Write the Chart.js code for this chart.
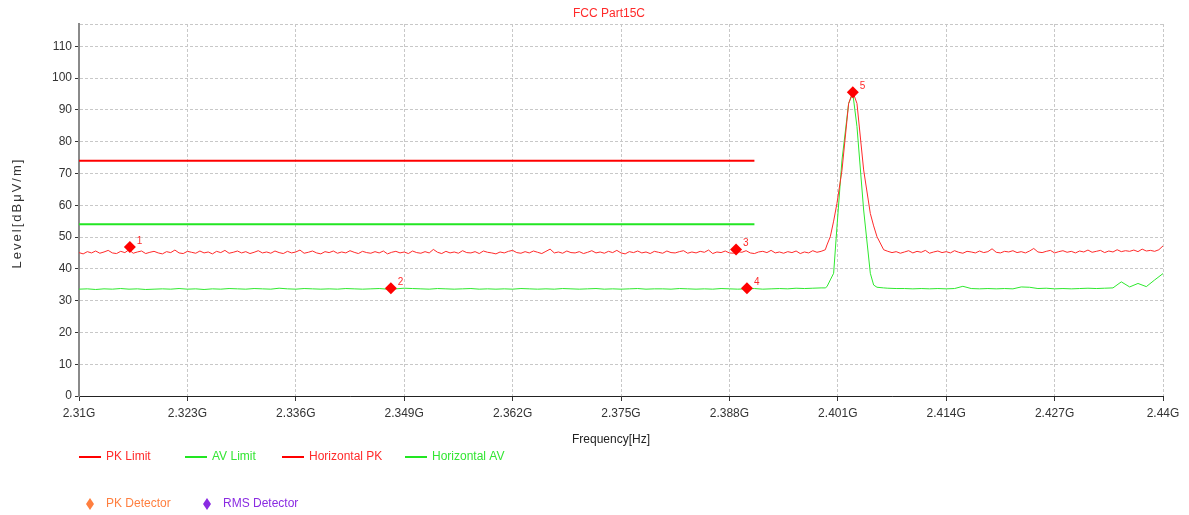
<!DOCTYPE html>
<html lang="en">
<head>
<meta charset="UTF-8">
<title>FCC Part15C</title>
<script src="https://cdn.jsdelivr.net/npm/chart.js"></script>
<style>
  body { margin: 0; background: #fff; }
</style>
</head>
<body>
<canvas id="fccChart" width="1189" height="515"></canvas>
<script>
// Horizontal PK sweep points (MHz)
const pkFreqMHz = [
  2310, 2310.5, 2311, 2311.5, 2312, 2312.5, 2313, 2313.5, 2314, 2314.5,
  2315, 2315.5, 2316, 2316.5, 2317, 2317.5, 2318, 2318.5, 2319, 2319.5,
  2320, 2320.5, 2321, 2321.5, 2322, 2322.5, 2323, 2323.5, 2324, 2324.5,
  2325, 2325.5, 2326, 2326.5, 2327, 2327.5, 2328, 2328.5, 2329, 2329.5,
  2330, 2330.5, 2331, 2331.5, 2332, 2332.5, 2333, 2333.5, 2334, 2334.5,
  2335, 2335.5, 2336, 2336.5, 2337, 2337.5, 2338, 2338.5, 2339, 2339.5,
  2340, 2340.5, 2341, 2341.5, 2342, 2342.5, 2343, 2343.5, 2344, 2344.5,
  2345, 2345.5, 2346, 2346.5, 2347, 2347.5, 2348, 2348.5, 2349, 2349.5,
  2350, 2350.5, 2351, 2351.5, 2352, 2352.5, 2353, 2353.5, 2354, 2354.5,
  2355, 2355.5, 2356, 2356.5, 2357, 2357.5, 2358, 2358.5, 2359, 2359.5,
  2360, 2360.5, 2361, 2361.5, 2362, 2362.5, 2363, 2363.5, 2364, 2364.5,
  2365, 2365.5, 2366, 2366.5, 2367, 2367.5, 2368, 2368.5, 2369, 2369.5,
  2370, 2370.5, 2371, 2371.5, 2372, 2372.5, 2373, 2373.5, 2374, 2374.5,
  2375, 2375.5, 2376, 2376.5, 2377, 2377.5, 2378, 2378.5, 2379, 2379.5,
  2380, 2380.5, 2381, 2381.5, 2382, 2382.5, 2383, 2383.5, 2384, 2384.5,
  2385, 2385.5, 2386, 2386.5, 2387, 2387.5, 2388, 2388.5, 2389, 2389.5,
  2390, 2390.5, 2391, 2391.5, 2392, 2392.5, 2393, 2393.5, 2394, 2394.5,
  2395, 2395.5, 2396, 2396.5, 2397, 2397.5, 2398, 2398.5, 2399,
  2399.5, 2399.7, 2400.1, 2400.5, 2400.9, 2401.5, 2402.3,
  2402.8, 2403.3, 2404.1, 2404.9, 2405.3, 2405.7, 2406.5,
  2407, 2407.5, 2408, 2408.5, 2409, 2409.5, 2410, 2410.5, 2411, 2411.5,
  2412, 2412.5, 2413, 2413.5, 2414, 2414.5, 2415, 2415.5, 2416, 2416.5,
  2417, 2417.5, 2418, 2418.5, 2419, 2419.5, 2420, 2420.5, 2421, 2421.5,
  2422, 2422.5, 2423, 2423.5, 2424, 2424.5, 2425, 2425.5, 2426, 2426.5,
  2427, 2427.5, 2428, 2428.5, 2429, 2429.5, 2430, 2430.5, 2431, 2431.5,
  2432, 2432.5, 2433, 2433.5, 2434, 2434.5, 2435, 2435.5, 2436, 2436.5,
  2437, 2437.5, 2438, 2438.5, 2439, 2439.5, 2440
];

// Horizontal PK level, dBuV/m
const horizPK = [
  45.1, 44.7, 45.4, 45.0, 45.6, 44.9, 45.3, 45.8, 45.0, 44.8,
  45.5, 45.1, 46.0, 44.9, 45.3, 45.6, 44.8, 45.2, 45.5, 45.0,
  44.7, 45.4, 45.1, 45.9, 45.0, 44.8, 45.5, 45.2, 44.9, 45.6,
  45.0, 45.3, 44.7, 45.5, 45.1, 45.8, 44.9, 45.2, 45.6, 45.0,
  45.4, 44.8, 45.2, 45.7, 45.0, 45.3, 44.9, 45.6, 45.1, 44.8,
  45.5, 45.0, 45.3, 45.9, 44.9, 45.2, 45.6, 45.0, 44.7, 45.4,
  45.1, 45.6, 44.9, 45.3, 45.0, 45.7, 45.2, 44.8, 45.5, 45.1,
  44.9, 45.4, 45.0, 45.6, 44.7, 45.2, 45.5, 45.0, 45.3, 44.8,
  45.6, 45.1, 44.9, 45.4, 45.0, 46.1, 45.2, 44.8, 45.5, 45.0,
  45.3, 44.9, 45.7, 45.1, 45.0, 45.4, 44.8, 45.6, 45.2, 45.0,
  44.7, 45.3, 45.0, 45.5, 45.8, 45.1, 44.9, 45.4, 45.0, 45.6,
  45.2, 44.8, 45.5, 46.2, 45.0, 45.3, 44.9, 45.6, 45.1, 45.0,
  45.4, 44.8, 45.2, 45.7, 45.0, 45.3, 44.9, 45.5, 45.1, 45.8,
  45.0, 44.7, 45.4, 45.1, 45.6, 45.0, 45.3, 44.8, 45.5, 45.2,
  44.9, 45.6, 45.1, 45.0, 45.4, 45.7, 44.9, 45.3, 45.0, 45.5,
  45.2, 45.9, 44.8, 45.3, 45.1, 45.6, 45.0, 44.9, 45.4, 45.2,
  45.7, 45.0, 44.8, 45.3, 45.5, 45.1, 45.8, 45.0, 45.3, 44.9,
  45.4, 45.1, 45.6, 44.8, 45.3, 45.0, 45.7, 45.2, 45.5,
  46.0, 47.5, 50.1, 55.0, 60.6, 71.0, 92.0,
  95.7, 92.0, 71.1, 57.4, 53.5, 50.1, 46.0,
  45.5, 45.1, 45.4, 44.9, 45.3, 45.7, 45.0, 45.5, 45.2, 45.8,
  44.9, 45.3, 45.6, 45.1, 45.4, 45.0, 45.7, 45.2, 44.9, 45.5,
  45.3, 45.0, 45.6, 45.1, 45.4, 46.3, 45.2, 45.0, 45.5, 45.3,
  45.7, 45.1, 45.4, 45.0, 45.6, 46.4, 45.3, 45.1, 45.5, 45.8,
  45.0, 45.4, 45.7, 45.2, 45.5, 45.0, 45.6, 45.3, 45.9, 45.2,
  45.5, 45.8, 45.1, 45.6, 45.3, 46.0, 45.4, 45.7, 45.5, 45.9,
  45.4, 46.2, 45.6, 45.8, 45.5, 46.0, 47.2
];

// Horizontal AV sweep points (MHz)
const avFreqMHz = [
  2310, 2311, 2312, 2313, 2314, 2315, 2316, 2317, 2318, 2319,
  2320, 2321, 2322, 2323, 2324, 2325, 2326, 2327, 2328, 2329,
  2330, 2331, 2332, 2333, 2334, 2335, 2336, 2337, 2338, 2339,
  2340, 2341, 2342, 2343, 2344, 2345, 2346, 2347, 2348, 2349,
  2350, 2351, 2352, 2353, 2354, 2355, 2356, 2357, 2358, 2359,
  2360, 2361, 2362, 2363, 2364, 2365, 2366, 2367, 2368, 2369,
  2370, 2371, 2372, 2373, 2374, 2375, 2376, 2377, 2378, 2379,
  2380, 2381, 2382, 2383, 2384, 2385, 2386, 2387, 2388, 2389,
  2390, 2391, 2392, 2393, 2394, 2395, 2396, 2397, 2398, 2399,
  2399.5, 2399.7, 2400.1, 2400.5, 2400.9, 2401.5, 2402.3,
  2402.8, 2403.3, 2404.1, 2404.9, 2405.3, 2405.7, 2406.5,
  2407, 2408, 2409, 2410, 2411, 2412, 2413, 2414, 2415, 2416,
  2417, 2418, 2419, 2420, 2421, 2422, 2423, 2424, 2425, 2426,
  2427, 2428, 2429, 2430, 2431, 2432, 2433, 2434, 2435, 2436,
  2437, 2438, 2439, 2440
];

// Horizontal AV level, dBuV/m
const horizAV = [
  33.6, 33.7, 33.5, 33.7, 33.6, 33.8, 33.6, 33.7, 33.5, 33.6,
  33.7, 33.6, 33.8, 33.6, 33.7, 33.5, 33.7, 33.6, 33.8, 33.7,
  33.6, 33.8, 33.7, 33.6, 33.9, 33.7, 33.6, 33.8, 33.7, 33.6,
  33.7, 33.6, 33.8, 33.7, 33.6, 33.7, 33.8, 33.6, 33.7, 33.9,
  33.8, 33.7, 33.6, 33.8, 33.7, 33.6, 33.7, 33.8, 33.6, 33.7,
  33.6, 33.7, 33.6, 33.8, 33.7, 33.6, 33.7, 33.6, 33.8, 33.7,
  33.6, 33.7, 33.8, 33.6, 33.7, 33.6, 33.7, 33.8, 33.6, 33.7,
  33.7, 33.6, 33.8, 33.7, 33.6, 33.7, 33.6, 33.8, 33.7, 33.6,
  33.7, 33.8, 33.6, 33.7, 33.8, 33.7, 33.9, 33.8, 33.9, 34.0,
  34.0, 34.4, 36.5, 38.6, 53.2, 74.2, 92.0,
  95.2, 84.7, 58.5, 38.6, 34.9, 34.2, 34.0,
  33.9, 33.8, 33.8, 33.7, 33.8, 33.7, 33.8, 33.7, 33.8, 34.5,
  33.8, 33.7, 33.8, 33.7, 33.8, 33.7, 34.3, 34.2, 33.8, 33.9,
  33.7, 33.8, 33.7, 33.8, 33.9, 33.8, 33.9, 34.0, 35.9, 34.3,
  35.4, 34.4, 36.5, 38.5
];

// limit lines (restricted band)
const limitFreqMHz = [2310, 2391];
const pkLimit = [74, 74];
const avLimit = [54, 54];

// marked points
const markerFreqMHz = [2316.1, 2347.4, 2388.8, 2390.1, 2402.8];
const markerLevel = [46.9, 33.9, 46.1, 33.9, 95.5];
const markerLabels = ['1', '2', '3', '4', '5'];

// axes
const xTicksMHz = [2310, 2323, 2336, 2349, 2362, 2375, 2388, 2401, 2414, 2427, 2440];
const xTickLabels = ['2.31G', '2.323G', '2.336G', '2.349G', '2.362G', '2.375G',
  '2.388G', '2.401G', '2.414G', '2.427G', '2.44G'];
const yTicks = [0, 10, 20, 30, 40, 50, 60, 70, 80, 90, 100, 110];
const yTop = 117;

const FONT = '"Liberation Sans", Arial, sans-serif';
const pts = (xs, ys) => xs.map((x, i) => ({ x: x, y: ys[i] }));

// number next to each marker
const markerLabelPlugin = {
    id: 'markerLabelPlugin',
    afterDatasetsDraw: (chart) => {
        const ctx = chart.ctx;
        const meta = chart.getDatasetMeta(0);
        ctx.save();
        ctx.fillStyle = '#ff2a2a';
        ctx.font = '10px ' + FONT;
        ctx.textBaseline = 'middle';
        meta.data.forEach((p, i) => {
            ctx.fillText(markerLabels[i], p.x + 7, p.y - 6);
        });
        ctx.restore();
    }
};

// titles and the two-row legend
const textPlugin = {
    id: 'textPlugin',
    afterDraw: (chart) => {
        const ctx = chart.ctx;
        const left = chart.chartArea.left;
        ctx.save();
        ctx.font = '12px ' + FONT;
        ctx.textBaseline = 'middle';
        ctx.textAlign = 'center';

        ctx.fillStyle = '#ff2a2a';
        ctx.fillText('FCC Part15C', 609, 14);
        ctx.fillStyle = '#222';
        ctx.fillText('Frequency[Hz]', 611, 440);

        // y title, spaced out like the original
        ctx.save();
        ctx.translate(17, 213);
        ctx.rotate(-Math.PI / 2);
        ctx.font = '13px ' + FONT;
        ctx.letterSpacing = '2px';
        ctx.fillStyle = '#333';
        ctx.fillText('Level[dBμV/m]', 0, 0);
        ctx.restore();

        ctx.textAlign = 'left';
        const lineItems = [
            { dx: 0, color: '#ff0000', text: 'PK Limit', textColor: '#ff2a2a' },
            { dx: 106, color: '#22e622', text: 'AV Limit', textColor: '#33e633' },
            { dx: 203, color: '#ff0000', text: 'Horizontal PK', textColor: '#ff2a2a' },
            { dx: 326, color: '#22e622', text: 'Horizontal AV', textColor: '#33e633' }
        ];
        lineItems.forEach(item => {
            ctx.strokeStyle = item.color;
            ctx.lineWidth = 2;
            ctx.beginPath();
            ctx.moveTo(left + item.dx, 457);
            ctx.lineTo(left + item.dx + 22, 457);
            ctx.stroke();
            ctx.fillStyle = item.textColor;
            ctx.fillText(item.text, left + item.dx + 27, 457);
        });

        const markItems = [
            { dx: 11, color: '#ff7f3f', text: 'PK Detector' },
            { dx: 128, color: '#8a2be2', text: 'RMS Detector' }
        ];
        markItems.forEach(item => {
            const cx = left + item.dx, cy = 504;
            ctx.fillStyle = item.color;
            ctx.beginPath();
            ctx.moveTo(cx, cy - 6);
            ctx.lineTo(cx + 4, cy);
            ctx.lineTo(cx, cy + 6);
            ctx.lineTo(cx - 4, cy);
            ctx.closePath();
            ctx.fill();
            ctx.fillText(item.text, cx + 16, cy);
        });
        ctx.restore();
    }
};

const ctx = document.getElementById('fccChart').getContext('2d');
const fccChart = new Chart(ctx, {
    type: 'scatter',
    data: {
        datasets: [
            {
                label: 'Markers',
                data: pts(markerFreqMHz, markerLevel),
                pointStyle: 'rectRot',
                pointRadius: 6,
                backgroundColor: '#ff0000',
                borderWidth: 0,
                showLine: false,
                order: 0
            },
            {
                label: 'PK Limit',
                data: pts(limitFreqMHz, pkLimit),
                borderColor: '#ff0000',
                borderWidth: 2,
                pointRadius: 0,
                showLine: true,
                order: 1
            },
            {
                label: 'AV Limit',
                data: pts(limitFreqMHz, avLimit),
                borderColor: '#22e622',
                borderWidth: 2,
                pointRadius: 0,
                showLine: true,
                order: 1
            },
            {
                label: 'Horizontal PK',
                data: pts(pkFreqMHz, horizPK),
                borderColor: '#ff2a2a',
                borderWidth: 1,
                pointRadius: 0,
                showLine: true,
                order: 2
            },
            {
                label: 'Horizontal AV',
                data: pts(avFreqMHz, horizAV),
                borderColor: '#2ee82e',
                borderWidth: 1,
                pointRadius: 0,
                showLine: true,
                order: 2
            }
        ]
    },
    options: {
        responsive: false,
        maintainAspectRatio: false,
        animation: false,
        layout: { padding: { left: 0, right: 26, top: 24, bottom: 68 } },
        plugins: {
            legend: { display: false },
            tooltip: { enabled: false },
            title: { display: false }
        },
        scales: {
            x: {
                type: 'linear',
                min: xTicksMHz[0],
                max: xTicksMHz[xTicksMHz.length - 1],
                afterBuildTicks: (scale) => {
                    scale.ticks = xTicksMHz.map(v => ({ value: v }));
                },
                afterFit: (scale) => { scale.height = 51; },
                ticks: {
                    autoSkip: false,
                    maxRotation: 0,
                    padding: 5,
                    color: '#333',
                    font: { family: FONT, size: 12 },
                    callback: (v, i) => xTickLabels[i]
                },
                grid: {
                    color: '#c8c8c8',
                    tickColor: '#333',
                    tickLength: 5,
                    tickBorderDash: []
                },
                border: { color: '#222', width: 1, dash: [3, 2] }
            },
            y: {
                type: 'linear',
                min: 0,
                max: yTop,
                afterBuildTicks: (scale) => {
                    scale.ticks = yTicks.concat([yTop]).map(v => ({ value: v }));
                },
                afterFit: (scale) => { scale.width = 79; },
                ticks: {
                    padding: 3,
                    color: '#333',
                    font: { family: FONT, size: 12 },
                    callback: (v) => (yTicks.indexOf(v) >= 0 ? String(v) : '')
                },
                grid: {
                    color: '#c8c8c8',
                    tickColor: (c) => (c.tick && c.tick.value === yTop ? 'rgba(0,0,0,0)' : '#333'),
                    tickLength: 4,
                    tickBorderDash: []
                },
                border: { color: '#8a8a8a', width: 2, dash: [3, 2] }
            }
        }
    },
    plugins: [markerLabelPlugin, textPlugin]
});
</script>
</body>
</html>
